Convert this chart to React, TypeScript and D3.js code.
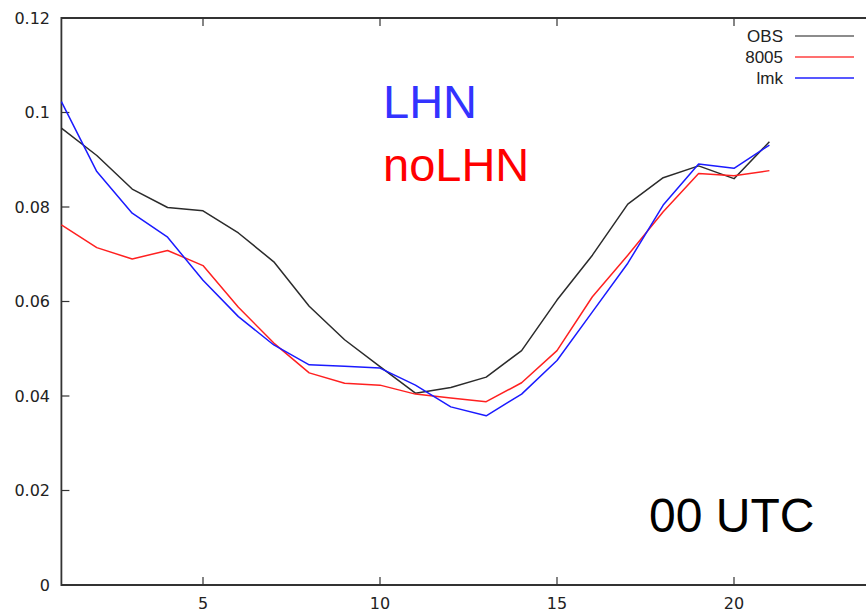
import React from "react";
import * as d3 from "d3";

// Hours of the day (x) and the three verification series
const hours = [1, 2, 3, 4, 5, 6, 7, 8, 9, 10, 11, 12, 13, 14, 15, 16, 17, 18, 19, 20, 21];
const obs = [0.0967, 0.0909, 0.0838, 0.0799, 0.0792, 0.0745, 0.0684, 0.059, 0.0519, 0.0462, 0.0406, 0.0418, 0.044, 0.0496, 0.0603, 0.0698, 0.0806, 0.0862, 0.0887, 0.086, 0.0938];
const run8005 = [0.0762, 0.0714, 0.069, 0.0708, 0.0676, 0.0588, 0.0512, 0.0449, 0.0427, 0.0423, 0.0404, 0.0396, 0.0388, 0.0428, 0.0496, 0.061, 0.0698, 0.079, 0.0871, 0.0866, 0.0877];
const lmk = [0.1023, 0.0875, 0.0787, 0.0736, 0.0645, 0.0568, 0.0508, 0.0466, 0.0463, 0.0459, 0.0423, 0.0377, 0.0358, 0.0404, 0.0475, 0.0578, 0.0681, 0.0804, 0.0891, 0.0882, 0.0931];

const seriesNames = ["OBS", "8005", "lmk"];
const seriesColors = ["#2b2b2b", "#ff2020", "#1a1aff"];
const legendColors = ["#666666", "#ff4040", "#2020ff"];

const xTicks = [5, 10, 15, 20];
const yTicks = [0, 0.02, 0.04, 0.06, 0.08, 0.1, 0.12];
const yTickLabels = ["0", "0.02", "0.04", "0.06", "0.08", "0.1", "0.12"];

const W = 866;
const H = 611;
const left = 61.4;
const top = 18;
const bottom = 585;

export default function App() {
  const x = d3.scaleLinear().domain([1, 24]).range([left, left + 23 * 35.4]);
  const y = d3.scaleLinear().domain([0, 0.12]).range([bottom, top]);
  const line = d3
    .line<number>()
    .x((_, i) => x(hours[i]))
    .y((d) => y(d));
  const all = [obs, run8005, lmk];
  const tickFont = "DejaVu Sans, sans-serif";
  const textFont = "Liberation Sans, Arial, sans-serif";
  const axisColor = "#333";

  return (
    <svg
      width={W}
      height={H}
      style={{ position: "absolute", left: 0, top: 0, background: "#fff" }}
    >
      {/* frame */}
      <path
        d={`M${W + 10},${top} H${left} V${bottom} H${W + 10}`}
        fill="none"
        stroke={axisColor}
        strokeWidth={1.8}
      />
      {/* y ticks */}
      {yTicks.map((t, i) => (
        <g key={"y" + i}>
          {i > 0 && i < yTicks.length - 1 && (
            <line x1={left} x2={left + 8} y1={y(t)} y2={y(t)} stroke={axisColor} strokeWidth={1.2} />
          )}
          <text
            x={50}
            y={y(t) + 5.8}
            textAnchor="end"
            fontFamily={tickFont}
            fontSize={16}
            fill="#222"
          >
            {yTickLabels[i]}
          </text>
        </g>
      ))}
      {/* x ticks, mirrored on top */}
      {xTicks.map((t) => (
        <g key={"x" + t}>
          <line x1={x(t)} x2={x(t)} y1={bottom} y2={bottom - 8} stroke={axisColor} strokeWidth={1.2} />
          <line x1={x(t)} x2={x(t)} y1={top} y2={top + 8} stroke={axisColor} strokeWidth={1.2} />
          <text
            x={x(t)}
            y={608.5}
            textAnchor="middle"
            fontFamily={tickFont}
            fontSize={16}
            fill="#222"
          >
            {t}
          </text>
        </g>
      ))}
      {/* series */}
      {all.map((s, i) => (
        <path
          key={seriesNames[i]}
          d={line(s) || ""}
          fill="none"
          stroke={seriesColors[i]}
          strokeWidth={1.5}
          strokeLinejoin="round"
        />
      ))}
      {/* legend */}
      {seriesNames.map((n, i) => (
        <g key={"lg" + n}>
          <text
            x={783}
            y={41.5 + i * 21}
            textAnchor="end"
            fontFamily={textFont}
            fontSize={17}
            fill="#222"
          >
            {n}
          </text>
          <line
            x1={795}
            x2={854}
            y1={36 + i * 21}
            y2={36 + i * 21}
            stroke={legendColors[i]}
            strokeWidth={1.5}
          />
        </g>
      ))}
      {/* annotations */}
      <text x={383} y={117.5} fontFamily={textFont} fontSize={47} fill="#3333ff">
        LHN
      </text>
      <text x={383} y={180.7} fontFamily={textFont} fontSize={47} fill="#ff0000">
        noLHN
      </text>
      <text x={649} y={531.5} fontFamily={textFont} fontSize={48} fill="#000">
        00 UTC
      </text>
    </svg>
  );
}
